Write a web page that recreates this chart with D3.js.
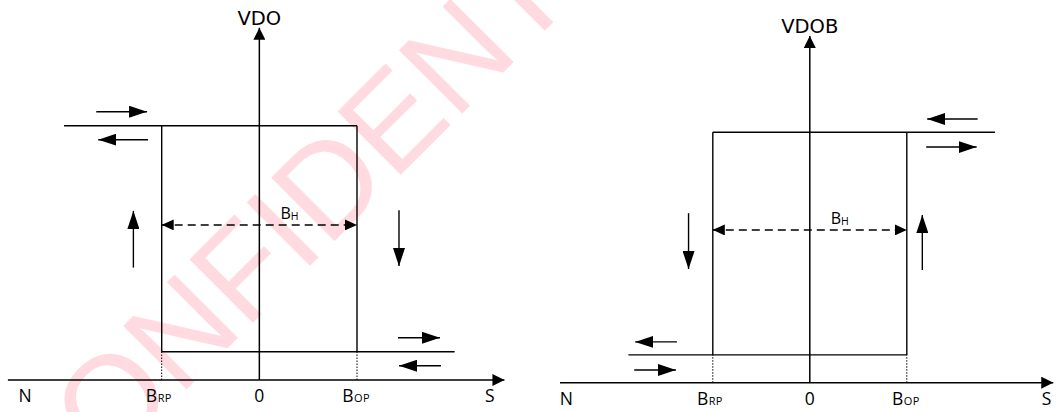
<!DOCTYPE html>
<html lang="en">
<head>
<meta charset="utf-8">
<title>VDO / VDOB hysteresis</title>
<script src="https://cdn.jsdelivr.net/npm/d3@7/dist/d3.min.js"></script>
<style>
body { margin: 0; background: #fff; }
.lbl { font-family: "Open Sans", Lato, sans-serif; fill: #000; }
.sub { letter-spacing: 0.3px; }
.ylbl { font-family: "DejaVu Sans", sans-serif; font-size: 19.5px; fill: #000; }
.wm { font-family: "Liberation Sans", Arial, sans-serif; font-size: 130px; fill: #ffdae1; }
</style>
</head>
<body>
<div id="main"></div>
<script>

// ---------------- data ----------------
var panelNames = ["VDO", "VDOB"];
var tickLabels = ["N", "B", "0", "B", "S"];
var tickSubs = ["", "RP", "", "OP", ""];
var tickValuesVDO = [-2.40, -1.03, 0, 0.99, 2.36];
var tickValuesVDOB = [-2.51, -1.03, 0, 0.99, 2.44];

var switchPoints = [-1, 1];          // B_RP, B_OP
var outputLevels = [0.111, 1];       // low, high
var xAxisSpan = [-2.575, 2.51];
var yAxisTop = 1.385;

// extent of the high / low output lines
var highSpanVDO = [-2.0, 1];
var lowSpanVDO = [-1, 2.0];
var highSpanVDOB = [-1, 1.91];
var lowSpanVDOB = [-1.87, 1];

var hystLevel = 0.61;                // B_H dashed arrow
var hystLabelX = 0.31;

// direction arrows [x1, y1, x2, y2] (tip at x2,y2)
var arrowsVDO = [
  [-1.67, 1.055, -1.15, 1.055],
  [-1.14, 0.945, -1.65, 0.945],
  [-1.29, 0.442, -1.29, 0.665],
  [1.43, 0.668, 1.43, 0.448],
  [1.42, 0.166, 1.85, 0.166],
  [1.86, 0.056, 1.43, 0.056]
];
var arrowsVDOB = [
  [1.73, 1.053, 1.21, 1.053],
  [1.20, 0.941, 1.72, 0.941],
  [-1.25, 0.677, -1.25, 0.454],
  [1.16, 0.450, 1.16, 0.670],
  [-1.37, 0.163, -1.80, 0.163],
  [-1.81, 0.051, -1.38, 0.051]
];

var watermark = "CONFIDENTIAL";

// ---------------- layout ----------------
var width = 1056, height = 412;

var svg = d3.select("#main").append("svg")
  .attr("width", width).attr("height", height);

var defs = svg.append("defs");
function marker(id, len, wid, orient) {
  defs.append("marker")
    .attr("id", id)
    .attr("markerUnits", "userSpaceOnUse")
    .attr("viewBox", "0 0 " + len + " " + wid)
    .attr("markerWidth", len).attr("markerHeight", wid)
    .attr("refX", len).attr("refY", wid / 2)
    .attr("orient", orient)
    .append("path")
    .attr("d", "M0,0L" + len + "," + (wid / 2) + "L0," + wid + "Z")
    .attr("fill", "#000");
}
marker("axHead", 12, 12, "auto");
marker("dirHead", 18, 12, "auto");
marker("dashHead", 12, 11, "auto-start-reverse");

// watermark behind everything
svg.append("text")
  .attr("class", "wm")
  .attr("transform", "rotate(-45)")
  .attr("x", -349).attr("y", 407)
  .text(watermark);

var panels = [
  { name: panelNames[0], ticks: tickValuesVDO, high: highSpanVDO, low: lowSpanVDO, arrows: arrowsVDO,
    x: d3.scaleLinear().domain([-1, 1]).range([161.7, 357]),
    y: d3.scaleLinear().domain([0, 1]).range([380, 125.7]) },
  { name: panelNames[1], ticks: tickValuesVDOB, high: highSpanVDOB, low: lowSpanVDOB, arrows: arrowsVDOB,
    x: d3.scaleLinear().domain([-1, 1]).range([712.8, 906.8]),
    y: d3.scaleLinear().domain([0, 1]).range([382.7, 132.3]) }
];

panels.forEach(function(p) {
  var x = p.x, y = p.y;
  var g = svg.append("g");

  function line(x1, y1, x2, y2) {
    return g.append("line")
      .attr("x1", x(x1)).attr("y1", y(y1))
      .attr("x2", x(x2)).attr("y2", y(y2))
      .attr("stroke", "#000");
  }

  // dotted drops from the low level to the field axis
  switchPoints.forEach(function(b) {
    line(b, 0, b, outputLevels[0]).attr("stroke-width", 1).attr("stroke-dasharray", "1.5,1.5");
  });

  // hysteresis loop
  line(p.high[0], outputLevels[1], p.high[1], outputLevels[1]).attr("stroke-width", 1.4);
  line(p.low[0], outputLevels[0], p.low[1], outputLevels[0]).attr("stroke-width", 1.4);
  switchPoints.forEach(function(b) {
    line(b, outputLevels[0], b, outputLevels[1]).attr("stroke-width", 1.4);
  });

  // axes
  line(xAxisSpan[0], 0, xAxisSpan[1], 0).attr("stroke-width", 1.5).attr("marker-end", "url(#axHead)");
  line(0, 0, 0, yAxisTop).attr("stroke-width", 1.5).attr("marker-end", "url(#axHead)");

  // B_H
  line(switchPoints[0], hystLevel, switchPoints[1], hystLevel)
    .attr("stroke-width", 1.5).attr("stroke-dasharray", "8,5")
    .attr("marker-start", "url(#dashHead)").attr("marker-end", "url(#dashHead)");
  var bh = g.append("text").attr("class", "lbl")
    .attr("x", x(hystLabelX)).attr("y", y(hystLevel) - 6)
    .attr("text-anchor", "middle").style("font-size", "16px");
  bh.append("tspan").text("B");
  bh.append("tspan").attr("class", "sub").style("font-size", "10.5px").attr("dy", 1).text("H");

  // direction arrows
  p.arrows.forEach(function(a) {
    line(a[0], a[1], a[2], a[3]).attr("stroke-width", 1.4).attr("marker-end", "url(#dirHead)");
  });

  // output label
  g.append("text").attr("class", "ylbl")
    .attr("x", x(0)).attr("y", y(yAxisTop) - 3)
    .attr("text-anchor", "middle")
    .text(p.name);

  // field labels
  p.ticks.forEach(function(v, i) {
    var t = g.append("text").attr("class", "lbl")
      .attr("x", x(v)).attr("y", y(0) + 22)
      .attr("text-anchor", "middle").style("font-size", "17.5px");
    t.append("tspan").text(tickLabels[i]);
    if (tickSubs[i]) t.append("tspan").attr("class", "sub").style("font-size", "11px").attr("dx", 0.5).text(tickSubs[i]);
  });
});

</script>
</body>
</html>
